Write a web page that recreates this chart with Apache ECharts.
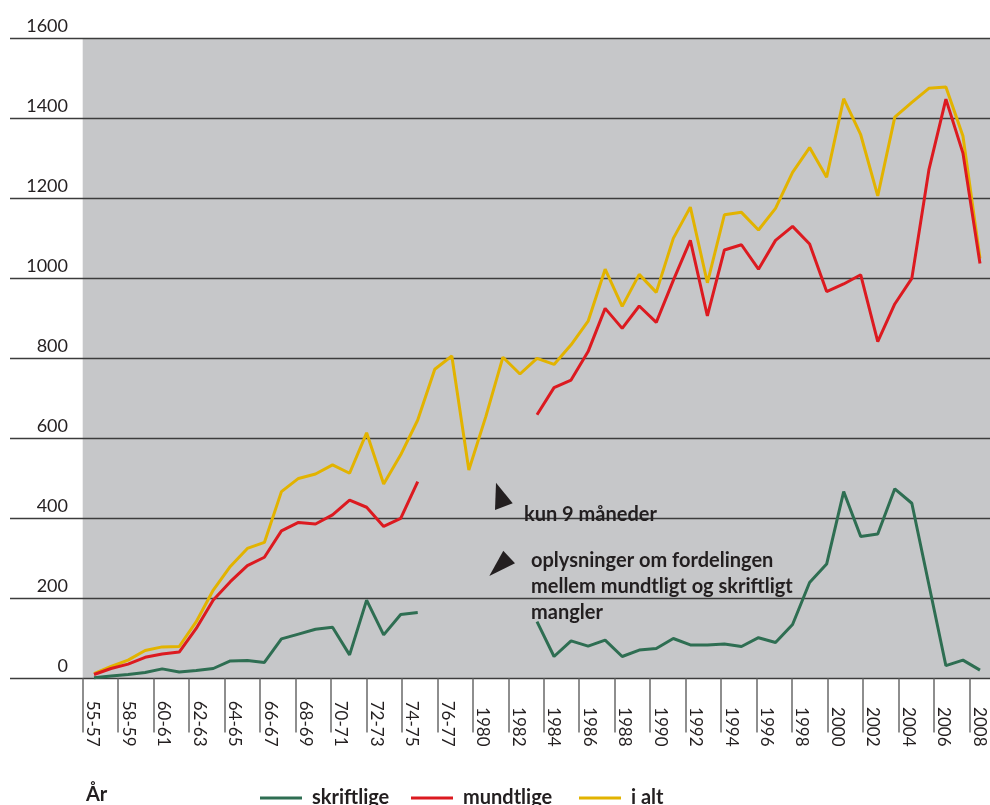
<!DOCTYPE html>
<html>
<head>
<meta charset="utf-8">
<script src="https://cdn.jsdelivr.net/npm/echarts@6/dist/echarts.min.js"></script>
<style>
html,body{margin:0;padding:0;background:#fff;}
#c{width:990px;height:805px;}
</style>
</head>
<body>
<div id="c"></div>
<script>
// Categories (one per data point)
const categories = ['55-57','57-58','58-59','59-60','60-61','61-62','62-63','63-64','64-65','65-66',
  '66-67','67-68','68-69','69-70','70-71','71-72','72-73','73-74','74-75','75-76',
  '76-77','77-78','1978','1979','1980','1981','1982','1983','1984','1985',
  '1986','1987','1988','1989','1990','1991','1992','1993','1994','1995',
  '1996','1997','1998','1999','2000','2001','2002','2003','2004','2005',
  '2006','2007','2008'];

// Tick labels as printed under the axis
const tickLabels = ['55-57','58-59','60-61','62-63','64-65','66-67','68-69','70-71','72-73','74-75',
  '76-77','1980','1982','1984','1986','1988','1990','1992','1994','1996',
  '1998','2000','2002','2004','2006','2008'];

const yTicks = [0, 200, 400, 600, 800, 1000, 1200, 1400, 1600];

const iAlt = [12,30,46,70,79,80,142,221,280,325,
  340,467,500,511,534,513,614,486,559,646,
  773,806,521,655,803,761,800,785,834,893,
  1023,930,1010,965,1100,1178,989,1159,1165,1121,
  1175,1265,1327,1253,1449,1359,1206,1403,1440,1475,
  1478,1356,1050];

const mundtlige = [10,25,36,53,61,66,125,196,242,282,
  303,369,390,386,409,446,428,380,400,492,
  null,null,null,null,null,null,659,727,746,817,
  925,875,931,890,995,1095,906,1071,1084,1023,
  1095,1130,1086,967,986,1009,842,936,1000,1271,
  1448,1313,1037];

const skriftlige = [2,6,10,15,24,16,20,25,44,45,
  40,99,111,123,128,59,196,109,160,165,
  null,null,null,null,null,null,142,55,94,81,
  96,55,71,75,100,84,84,86,80,102,
  90,135,240,286,467,355,361,474,438,235,
  32,46,21];

const seriesNames = ['skriftlige', 'mundtlige', 'i alt'];
const legendLeft = [255, 406, 574];
const colors = { 'skriftlige': '#2e6e52', 'mundtlige': '#dc1a20', 'i alt': '#e2b300' };

const FONT = 'Lato';
const TXT = '#231f20';
const TOP = 38.3, BOTTOM = 126.5;

const chart = echarts.init(document.getElementById('c'), null, {renderer: 'canvas'});

const legends = seriesNames.map(function (n, i) {
  return {
    data: [n],
    left: legendLeft[i], top: 783,
    icon: 'rect', itemWidth: 42, itemHeight: 3, itemGap: 0,
    textStyle: {fontFamily: FONT, fontSize: 20, fontWeight: 'bold', color: TXT, lineHeight: 20, padding: [0, 0, 0, 5]}
  };
});

const option = {
  backgroundColor: '#ffffff',
  animation: false,
  grid: [
    {left: 85.5, right: 1.5, top: TOP, bottom: BOTTOM, outerBoundsMode: 'none', containLabel: false},
    {left: 10, right: 0, top: TOP, bottom: BOTTOM, outerBoundsMode: 'none', containLabel: false},
    {left: 82.7, right: 0, top: TOP, bottom: BOTTOM, show: true, backgroundColor: '#c6c7c9', borderWidth: 0, outerBoundsMode: 'none', containLabel: false},
    {left: 82.7, right: 20.7, top: TOP, bottom: BOTTOM, outerBoundsMode: 'none', containLabel: false}
  ],
  xAxis: [
    {gridIndex: 0, type: 'category', data: categories, boundaryGap: true, show: false},
    {gridIndex: 1, type: 'value', min: 0, max: 1, show: false},
    {gridIndex: 2, type: 'value', min: 0, max: 1, show: false},
    {gridIndex: 3, type: 'category', data: tickLabels, boundaryGap: false, position: 'bottom', offset: 14,
      axisLine: {show: false},
      axisTick: {show: true, interval: 0, length: 54, lineStyle: {color: '#6a6a6a', width: 1.5}},
      axisLabel: {show: true, interval: 0, rotate: -90, align: 'right', verticalAlign: 'bottom', margin: 54,
        fontFamily: FONT, fontSize: 17, color: TXT, lineHeight: 20, hideOverlap: false},
      splitLine: {show: false}
    }
  ],
  yAxis: [
    {gridIndex: 0, type: 'value', min: 0, max: 1600, interval: 200, show: false},
    {gridIndex: 1, type: 'value', min: 0, max: 1600, interval: 200, position: 'left',
      axisLine: {show: false}, axisTick: {show: false},
      axisLabel: {show: true, inside: true, align: 'right', verticalAlign: 'bottom', margin: 58,
        fontFamily: FONT, fontSize: 18, color: TXT, lineHeight: 18, padding: [0, 0, 3, 0],
        formatter: function (v) { return yTicks.indexOf(v) >= 0 ? String(v) : ''; }},
      splitLine: {show: true, lineStyle: {color: '#3c3c3c', width: 1.3}}
    },
    {gridIndex: 2, type: 'value', min: 0, max: 1, show: false},
    {gridIndex: 3, type: 'value', min: 0, max: 1, show: false}
  ],
  legend: legends,
  title: {
    text: 'År', left: 81, top: 780,
    textStyle: {fontFamily: FONT, fontSize: 20, fontWeight: 'bold', color: TXT}
  },
  graphic: [
    {type: 'polygon', shape: {points: [[496, 482.7], [512.7, 503.3], [495, 510]]}, style: {fill: '#231f20'}, z: 10},
    {type: 'polygon', shape: {points: [[503.3, 550.7], [515, 563.3], [489.3, 576]]}, style: {fill: '#231f20'}, z: 10},
    {type: 'text', left: 524, top: 505, z: 10,
      style: {text: 'kun 9 måneder', fontFamily: FONT, fontSize: 20, fontWeight: 'bold', fill: TXT}},
    {type: 'text', left: 531, top: 548, z: 10,
      style: {text: 'oplysninger om fordelingen\nmellem mundtligt og skriftligt\nmangler', fontFamily: FONT, fontSize: 20, fontWeight: 'bold', fill: TXT, lineHeight: 26}}
  ],
  series: [
    {name: 'i alt', type: 'line', xAxisIndex: 0, yAxisIndex: 0, data: iAlt, showSymbol: false, symbol: 'none',
      color: colors['i alt'], lineStyle: {width: 3, color: colors['i alt']}, z: 3},
    {name: 'mundtlige', type: 'line', xAxisIndex: 0, yAxisIndex: 0, data: mundtlige, showSymbol: false, symbol: 'none',
      color: colors['mundtlige'], lineStyle: {width: 3, color: colors['mundtlige']}, z: 4},
    {name: 'skriftlige', type: 'line', xAxisIndex: 0, yAxisIndex: 0, data: skriftlige, showSymbol: false, symbol: 'none',
      color: colors['skriftlige'], lineStyle: {width: 3, color: colors['skriftlige']}, z: 5}
  ]
};
chart.setOption(option);
</script>
</body>
</html>
